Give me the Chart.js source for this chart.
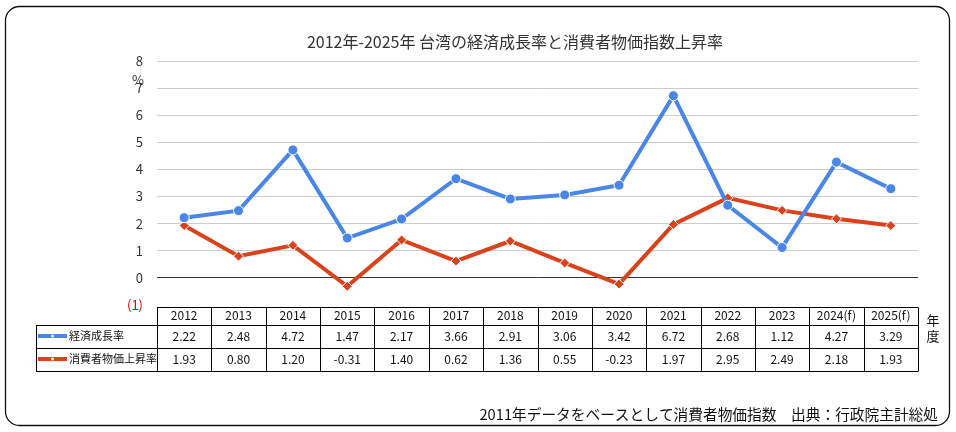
<!DOCTYPE html>
<html>
<head>
<meta charset="utf-8">
<script src="https://cdn.jsdelivr.net/npm/chart.js@4"></script>
<style>
  body { margin: 0; background: #fff; }
  #wrap { width: 956px; height: 432px; }
</style>
</head>
<body>
<div id="wrap"><canvas id="chart" width="956" height="432"></canvas></div>
<script>
const FONT = '"Noto Sans CJK JP", "Noto Sans", sans-serif';

// data
const years = ['2012', '2013', '2014', '2015', '2016', '2017', '2018', '2019', '2020', '2021', '2022', '2023', '2024(f)', '2025(f)'];
const gdpGrowth = [2.22, 2.48, 4.72, 1.47, 2.17, 3.66, 2.91, 3.06, 3.42, 6.72, 2.68, 1.12, 4.27, 3.29];
const cpiRise = [1.93, 0.80, 1.20, -0.31, 1.40, 0.62, 1.36, 0.55, -0.23, 1.97, 2.95, 2.49, 2.18, 1.93];
const seriesNames = ['経済成長率', '消費者物価上昇率'];
const chartTitle = '2012年-2025年 台湾の経済成長率と消費者物価指数上昇率';

const BLUE = '#4a86e8';
const RED = '#d9421a';

// frame, title, data table and notes drawn around the plot
const extras = {
  id: 'extras',
  afterDraw(c) {
    const ctx = c.ctx;
    const x = c.scales.x;
    const y = c.scales.y;
    const step = x.getPixelForValue(1) - x.getPixelForValue(0);
    const left = x.getPixelForValue(0) - step / 2;
    const right = x.getPixelForValue(years.length - 1) + step / 2;
    const top = y.getPixelForValue(-1) + 2;
    const rows = [top, top + 17.5, top + 40.5, top + 63.5];
    const labelLeft = 36;

    ctx.save();
    // outer rounded frame
    ctx.strokeStyle = '#111';
    ctx.lineWidth = 1.3;
    ctx.beginPath();
    ctx.roundRect(5.5, 6.5, 944, 419, 14);
    ctx.stroke();

    // title
    ctx.fillStyle = '#333';
    ctx.font = '16px ' + FONT;
    ctx.textAlign = 'center';
    ctx.textBaseline = 'middle';
    ctx.fillText(chartTitle, 515, 42);

    // % label
    ctx.font = '13px ' + FONT;
    ctx.fillText('%', 138, 80);

    // table grid
    ctx.strokeStyle = '#000';
    ctx.lineWidth = 1;
    const hl = (x1, x2, yy) => { ctx.beginPath(); ctx.moveTo(x1, Math.round(yy) + 0.5); ctx.lineTo(x2, Math.round(yy) + 0.5); ctx.stroke(); };
    const vl = (xx, y1, y2) => { ctx.beginPath(); ctx.moveTo(Math.round(xx) + 0.5, Math.round(y1) + 0.5); ctx.lineTo(Math.round(xx) + 0.5, Math.round(y2) + 0.5); ctx.stroke(); };
    hl(left, right, rows[0]);
    hl(labelLeft, right, rows[1]);
    hl(labelLeft, right, rows[2]);
    hl(labelLeft, right, rows[3]);
    vl(labelLeft, rows[1], rows[3]);
    for (let i = 0; i <= years.length; i++) {
      vl(left + i * step, rows[0], rows[3]);
    }

    // table text
    ctx.fillStyle = '#111';
    ctx.font = '12px ' + FONT;
    ctx.textAlign = 'center';
    years.forEach((yr, i) => {
      const cx = x.getPixelForValue(i);
      ctx.fillText(yr, cx, (rows[0] + rows[1]) / 2);
      ctx.fillText(gdpGrowth[i].toFixed(2), cx, (rows[1] + rows[2]) / 2);
      ctx.fillText(cpiRise[i].toFixed(2), cx, (rows[2] + rows[3]) / 2);
    });

    // series keys in the label column
    [BLUE, RED].forEach((col, k) => {
      const cy = (rows[k + 1] + rows[k + 2]) / 2;
      ctx.strokeStyle = col;
      ctx.lineWidth = 4;
      ctx.beginPath();
      ctx.moveTo(38, cy);
      ctx.lineTo(67, cy);
      ctx.stroke();
      ctx.fillStyle = '#fff';
      ctx.beginPath();
      ctx.arc(52.5, cy, 1.5, 0, Math.PI * 2);
      ctx.fill();
      ctx.fillStyle = '#111';
      ctx.textAlign = 'left';
      ctx.font = '11px ' + FONT;
      ctx.fillText(seriesNames[k], 69, cy);
    });

    // 年度
    ctx.textAlign = 'center';
    ctx.font = '13px ' + FONT;
    ctx.fillText('年', 933, 320);
    ctx.fillText('度', 933, 336);

    // source note
    ctx.textAlign = 'right';
    ctx.font = '14.7px ' + FONT;
    ctx.fillText('2011年データをベースとして消費者物価指数　出典：行政院主計総処', 938, 414);
    ctx.restore();
  }
};

new Chart(document.getElementById('chart').getContext('2d'), {
  type: 'line',
  data: {
    labels: years,
    datasets: [
      {
        label: seriesNames[0],
        data: gdpGrowth,
        borderColor: BLUE,
        backgroundColor: BLUE,
        borderWidth: 4,
        pointStyle: 'circle',
        pointRadius: 5,
        pointBorderColor: '#fff',
        pointBorderWidth: 1,
        tension: 0
      },
      {
        label: seriesNames[1],
        data: cpiRise,
        borderColor: RED,
        backgroundColor: RED,
        borderWidth: 4,
        pointStyle: 'rectRot',
        pointRadius: 5,
        pointBorderColor: '#fff',
        pointBorderWidth: 1,
        tension: 0
      }
    ]
  },
  options: {
    responsive: false,
    animation: false,
    layout: { padding: { left: 0, right: 38, top: 61, bottom: 127 } },
    plugins: {
      legend: { display: false },
      tooltip: { enabled: false },
      title: { display: false }
    },
    scales: {
      x: { display: false, offset: true },
      y: {
        min: -1,
        max: 8,
        afterFit(s) { s.width = 157; },
        border: { display: false },
        grid: {
          drawTicks: false,
          color: (g) => g.tick.value === 0 ? '#333' : (g.tick.value < 0 ? 'rgba(0,0,0,0)' : '#cccccc'),
          lineWidth: 1
        },
        ticks: {
          stepSize: 1,
          padding: 14,
          color: (t) => t.tick.value < 0 ? '#e00000' : '#333',
          font: { family: FONT, size: 13 },
          callback: (v) => v < 0 ? '(' + (-v) + ')' : v
        }
      }
    }
  },
  plugins: [extras]
});
</script>
</body>
</html>
